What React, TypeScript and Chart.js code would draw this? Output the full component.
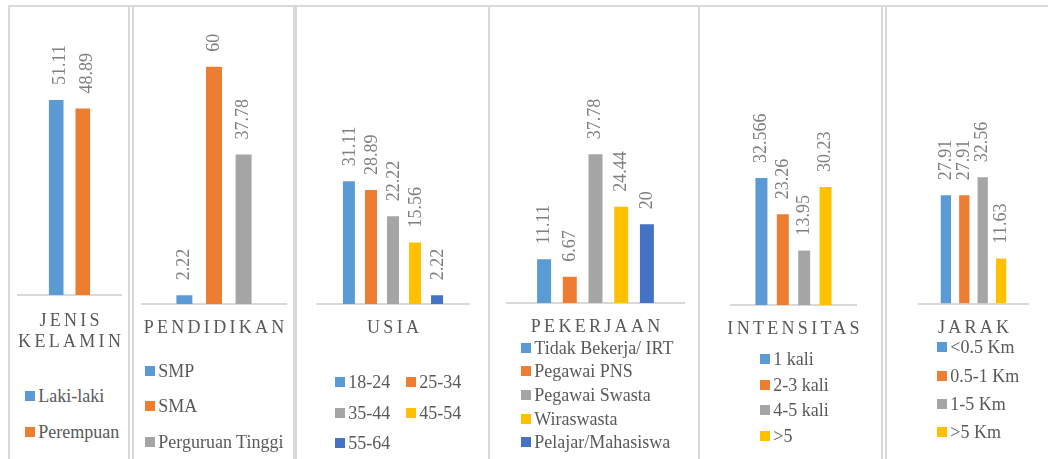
import React, { useEffect, useRef } from "react";
import { Chart, registerables } from "chart.js";

Chart.register(...registerables);

// ---------- data ----------
const genderTitle = ["JENIS", "KELAMIN"];
const genderSeries = ["Laki-laki", "Perempuan"];
const genderValues = [51.11, 48.89];

const educationTitle = ["PENDIDIKAN"];
const educationSeries = ["SMP", "SMA", "Perguruan Tinggi"];
const educationValues = [2.22, 60, 37.78];

const ageTitle = ["USIA"];
const ageSeries = ["18-24", "25-34", "35-44", "45-54", "55-64"];
const ageValues = [31.11, 28.89, 22.22, 15.56, 2.22];

const jobTitle = ["PEKERJAAN"];
const jobSeries = ["Tidak Bekerja/ IRT", "Pegawai PNS", "Pegawai Swasta", "Wiraswasta", "Pelajar/Mahasiswa"];
const jobValues = [11.11, 6.67, 37.78, 24.44, 20];

const freqTitle = ["INTENSITAS"];
const freqSeries = ["1 kali", "2-3 kali", "4-5 kali", ">5"];
const freqValues = [32.566, 23.26, 13.95, 30.23];

const distTitle = ["JARAK"];
const distSeries = ["<0.5 Km", "0.5-1 Km", "1-5 Km", ">5 Km"];
const distValues = [27.91, 27.91, 32.56, 11.63];

// ---------- style ----------
const COLORS = ["#5B9BD5", "#ED7D31", "#A5A5A5", "#FFC000", "#4472C4"];
const FONT = "'Liberation Serif', 'Times New Roman', serif";
const TITLE_COLOR = "#595959";
const LABEL_COLOR = "#7f7f7f";
const FRAME_COLOR = "#d9d9d9";
const SIDE = 60;
const AXIS_H = 90;
const LABEL_GAP = 15;
const TITLE_SPACING = 3.3;
const TITLE_LINE_H = 21;

type PanelData = { title: string[]; series: string[]; values: number[] };
type PanelLayout = {
  axisLeft: number;
  axisRight: number;
  baseline: number;
  plotTop: number;
  yMax: number;
  catPct: number;
  barPct: number;
  labelDx: number;
  titleOffset: number;
  legendX: number;
  legendY: number;
  legendDy: number;
  legendCols: number;
  legendColW: number;
};

const PANELS: { data: PanelData; layout: PanelLayout }[] = [
  {
    data: { title: genderTitle, series: genderSeries, values: genderValues },
    layout: { axisLeft: 18, axisRight: 121, baseline: 295, plotTop: 66, yMax: 60, catPct: 0.516, barPct: 0.55, labelDx: 4, titleOffset: 30.5,
      legendX: 25, legendY: 396, legendDy: 35.7, legendCols: 1, legendColW: 0 },
  },
  {
    data: { title: educationTitle, series: educationSeries, values: educationValues },
    layout: { axisLeft: 142, axisRight: 286, baseline: 304, plotTop: 27.2, yMax: 70, catPct: 0.617, barPct: 0.54, labelDx: 0, titleOffset: 29,
      legendX: 145, legendY: 370.7, legendDy: 35.5, legendCols: 1, legendColW: 0 },
  },
  {
    data: { title: ageTitle, series: ageSeries, values: ageValues },
    layout: { axisLeft: 317, axisRight: 469, baseline: 304, plotTop: 146.2, yMax: 40, catPct: 0.725, barPct: 0.545, labelDx: 1, titleOffset: 29,
      legendX: 335, legendY: 382, legendDy: 30.6, legendCols: 2, legendColW: 71 },
  },
  {
    data: { title: jobTitle, series: jobSeries, values: jobValues },
    layout: { axisLeft: 507, axisRight: 684, baseline: 303, plotTop: 145.6, yMax: 40, catPct: 0.726, barPct: 0.544, labelDx: 0, titleOffset: 28.7,
      legendX: 521, legendY: 347.7, legendDy: 23.65, legendCols: 1, legendColW: 0 },
  },
  {
    data: { title: freqTitle, series: freqSeries, values: freqValues },
    layout: { axisLeft: 731, axisRight: 856, baseline: 305, plotTop: 149, yMax: 40, catPct: 0.684, barPct: 0.56, labelDx: 0, titleOffset: 29,
      legendX: 760, legendY: 359, legendDy: 25.5, legendCols: 1, legendColW: 0 },
  },
  {
    data: { title: distTitle, series: distSeries, values: distValues },
    layout: { axisLeft: 919, axisRight: 1028, baseline: 303.5, plotTop: 148.3, yMax: 40, catPct: 0.675, barPct: 0.56, labelDx: 0, titleOffset: 29,
      legendX: 937, legendY: 347.3, legendDy: 28.3, legendCols: 1, legendColW: 0 },
  },
];

const FRAME_VLINES = [9, 129.3, 132.7, 294, 296, 489, 699.3, 882.3, 885.7];

// Draws the category (tick) labels of the x scale, letter-spaced and centred on the tick.
function makeTitlePlugin(offset: number) {
  return {
    id: "spacedCategoryTitle",
    afterDraw(chart: any) {
      const ctx = chart.ctx;
      const scale = chart.scales.x;
      ctx.save();
      ctx.font = `18px ${FONT}`;
      ctx.fillStyle = TITLE_COLOR;
      ctx.textAlign = "left";
      ctx.textBaseline = "alphabetic";
      scale.ticks.forEach((t: any, i: number) => {
        const lines: string[] = Array.isArray(t.label) ? t.label : [String(t.label)];
        const cx = scale.getPixelForTick(i);
        lines.forEach((line, li) => {
          ctx.letterSpacing = "0px";
          const w = ctx.measureText(line).width + (line.length - 1) * TITLE_SPACING;
          ctx.letterSpacing = `${TITLE_SPACING}px`;
          ctx.fillText(line, cx - w / 2, scale.top + offset + li * TITLE_LINE_H);
        });
      });
      ctx.restore();
    },
  };
}

function makeLabelPlugin(dx: number) {
  return {
    id: "verticalLabels",
    afterDatasetsDraw(chart: any) {
      const ctx = chart.ctx;
      ctx.save();
      ctx.font = `18px ${FONT}`;
      ctx.fillStyle = LABEL_COLOR;
      ctx.textAlign = "left";
      ctx.textBaseline = "middle";
      chart.data.datasets.forEach((ds: any, di: number) => {
        const meta = chart.getDatasetMeta(di);
        meta.data.forEach((el: any, i: number) => {
          const v = ds.data[i];
          ctx.save();
          ctx.translate(el.x + dx, el.y - LABEL_GAP);
          ctx.rotate(-Math.PI / 2);
          ctx.fillText(String(v), 0, 0);
          ctx.restore();
        });
      });
      ctx.restore();
    },
  };
}

function PanelChart({ data, layout }: { data: PanelData; layout: PanelLayout }) {
  const ref = useRef<HTMLCanvasElement>(null);
  const W = Math.round(layout.axisRight - layout.axisLeft + 2 * SIDE);
  const H = Math.round(layout.baseline + AXIS_H);
  useEffect(() => {
    const chart = new Chart(ref.current as HTMLCanvasElement, {
      type: "bar",
      data: {
        labels: [data.title],
        datasets: data.series.map((s, i) => ({
          label: s,
          data: [data.values[i]],
          backgroundColor: COLORS[i],
          borderWidth: 0,
          categoryPercentage: layout.catPct,
          barPercentage: layout.barPct,
        })),
      },
      options: {
        responsive: false,
        animation: false,
        events: [],
        layout: { padding: { left: SIDE, right: W - SIDE - (layout.axisRight - layout.axisLeft), top: layout.plotTop, bottom: 0 } },
        plugins: { legend: { display: false }, tooltip: { enabled: false } },
        scales: {
          x: {
            grid: { display: false, drawTicks: false },
            border: { display: true, color: FRAME_COLOR, width: 2 },
            ticks: { display: false, autoSkip: false, maxRotation: 0, minRotation: 0 },
            afterFit: (scale: any) => {
              scale.height = H - layout.baseline;
            },
          },
          y: { display: false, min: 0, max: layout.yMax },
        },
      } as any,
      plugins: [makeTitlePlugin(layout.titleOffset), makeLabelPlugin(layout.labelDx)],
    });
    return () => chart.destroy();
  }, []);
  return (
    <canvas
      ref={ref}
      width={W}
      height={H}
      style={{ position: "absolute", left: layout.axisLeft - SIDE, top: 0, width: W, height: H }}
    />
  );
}

function Legend({ data, layout }: { data: PanelData; layout: PanelLayout }) {
  return (
    <>
      {data.series.map((s, i) => {
        const col = i % layout.legendCols;
        const row = Math.floor(i / layout.legendCols);
        return (
          <div
            key={s}
            style={{
              position: "absolute",
              left: layout.legendX + col * layout.legendColW,
              top: layout.legendY + row * layout.legendDy - 10,
              height: 20,
              display: "flex",
              alignItems: "center",
              whiteSpace: "nowrap",
            }}
          >
            <div style={{ width: 10, height: 10, background: COLORS[i], marginRight: 3.3 }} />
            <span style={{ fontFamily: FONT, fontSize: 18, lineHeight: "20px", color: TITLE_COLOR }}>{s}</span>
          </div>
        );
      })}
    </>
  );
}

export default function App() {
  return (
    <div
      style={{
        position: "fixed",
        left: 0,
        top: 0,
        width: 1048,
        height: 459,
        background: "#ffffff",
        overflow: "hidden",
      }}
    >
      <div style={{ position: "absolute", left: 8, top: 5, width: 1040, height: 2, background: FRAME_COLOR }} />
      {FRAME_VLINES.map((x) => (
        <div key={x} style={{ position: "absolute", left: x - 1, top: 5, width: 2, height: 460, background: FRAME_COLOR }} />
      ))}
      {PANELS.map((p, i) => (
        <React.Fragment key={i}>
          <PanelChart data={p.data} layout={p.layout} />
          <Legend data={p.data} layout={p.layout} />
        </React.Fragment>
      ))}
    </div>
  );
}
